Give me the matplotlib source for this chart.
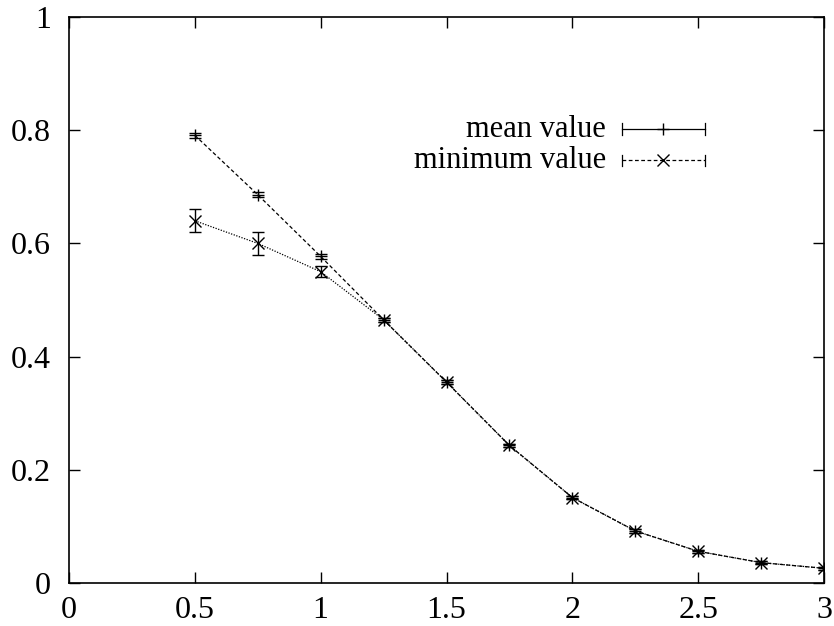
import matplotlib.pyplot as plt

plt.rcParams['font.family'] = ['Liberation Serif', 'DejaVu Serif']

x = [0.5, 0.75, 1.0, 1.25, 1.5, 1.75, 2.0, 2.25, 2.5, 2.75, 3.0]
mean_y = [0.791, 0.686, 0.577, 0.465, 0.355, 0.243, 0.151, 0.092, 0.056, 0.036, 0.026]
mean_err = [0.004, 0.004, 0.004, 0.004, 0.004, 0.003, 0.003, 0.003, 0.003, 0.003, 0.003]
min_y = [0.640, 0.600, 0.550, 0.465, 0.355, 0.243, 0.151, 0.092, 0.056, 0.036, 0.026]
min_err = [0.020, 0.020, 0.010, 0.004, 0.004, 0.003, 0.003, 0.003, 0.003, 0.003, 0.003]

fig = plt.figure(figsize=(8.34, 6.26), dpi=100)
ax = fig.add_axes([69 / 834, 1 - 583 / 626, (824 - 69) / 834, (583 - 17) / 626])

# connecting lines
ax.plot(x, mean_y, color='black', lw=0.9, ls=(0, (3, 2)))
ax.plot(x, min_y, color='black', lw=0.9, ls=(0, (1, 1.2)))

# points with error bars
ax.errorbar(x, mean_y, yerr=mean_err, fmt='+', color='black', ms=8, mew=1.0,
            elinewidth=1.0, capsize=4, capthick=1.0)
ax.errorbar(x, min_y, yerr=min_err, fmt='x', color='black', ms=8, mew=1.0,
            elinewidth=1.0, capsize=4, capthick=1.0)

ax.set_xlim(0, 3)
ax.set_ylim(0, 1)
ax.set_xticks([0, 0.5, 1, 1.5, 2, 2.5, 3])
ax.set_xticklabels(['0', '0.5', '1', '1.5', '2', '2.5', '3'])
ax.set_yticks([0, 0.2, 0.4, 0.6, 0.8, 1])
ax.set_yticklabels(['0', '0.2', '0.4', '0.6', '0.8', '1'])
ax.tick_params(direction='in', length=8, width=1, top=True, right=True,
               labelsize=23)
ax.tick_params(axis='x', pad=9)
ax.tick_params(axis='y', pad=13)
for s in ax.spines.values():
    s.set_linewidth(1.2)

# legend drawn in axes fraction, gnuplot style
tr = ax.transAxes
items = [('mean value', '-', '+'), ('minimum value', (0, (3, 2)), 'x')]
for i, (lab, ls, mk) in enumerate(items):
    yy = 0.802 - i * 0.055
    x0, x1 = 0.732, 0.842
    ax.text(0.711, yy, lab, transform=tr, ha='right', va='center', fontsize=22)
    ax.plot([x0, x1], [yy, yy], transform=tr, color='black', lw=0.9, ls=ls)
    ax.plot([x0, x0], [yy - 0.01, yy + 0.01], transform=tr, color='black', lw=0.9)
    ax.plot([x1, x1], [yy - 0.01, yy + 0.01], transform=tr, color='black', lw=0.9)
    ax.plot([(x0 + x1) / 2], [yy], transform=tr, color='black', marker=mk, ms=8, mew=1.0)

fig.savefig('out.png', dpi=100)
